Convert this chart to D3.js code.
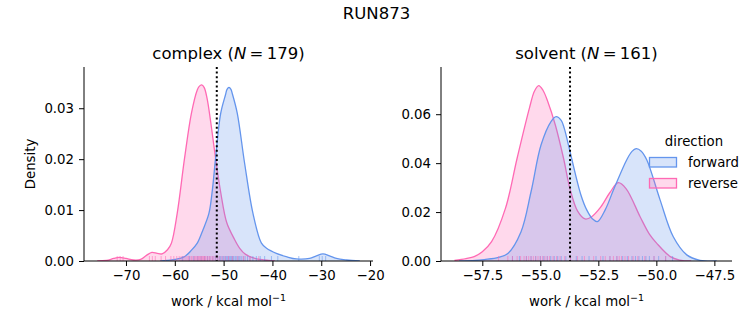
<!DOCTYPE html>
<html>
<head>
<meta charset="utf-8">
<script src="https://cdn.jsdelivr.net/npm/d3@7"></script>
<style>
  body { margin: 0; background: #fff; }
  svg { font-family: "DejaVu Sans", sans-serif; }
</style>
</head>
<body>
<svg id="chart" width="753" height="325"></svg>
<script>
// density curves: [work, density]
const complexReverse = [[-75.9,0],[-74,0.0001],[-72.5,0.0005],[-71.4,0.0007],[-70,0.0005],[-68.5,0.0002],[-67,0.0003],[-65.8,0.0011],[-64.7,0.0017],[-63.6,0.0015],[-62.6,0.0014],[-61.5,0.0022],[-60.7,0.0035],[-59.5,0.0094],[-58.0,0.0202],[-56.6,0.029],[-55.4,0.0336],[-55.0,0.0343],[-54.5,0.0346],[-54.0,0.0341],[-53.4,0.032],[-52.6,0.027],[-51.65,0.0202],[-50.6,0.0135],[-49.35,0.0075],[-47.9,0.0045],[-46.7,0.0025],[-45.5,0.0013],[-43.6,0.0005],[-41.6,0.0002],[-39.5,0]];
const complexForward = [[-63,0],[-61.6,0.0001],[-60,0.0003],[-58.1,0.0008],[-56.7,0.002],[-55.4,0.0035],[-54.2,0.0062],[-53.0,0.0094],[-52.3,0.014],[-51.65,0.0202],[-50.6,0.029],[-49.6,0.0327],[-49.3,0.0337],[-48.9,0.0341],[-48.5,0.0337],[-48.2,0.0328],[-47.2,0.029],[-45.7,0.0192],[-44.0,0.0094],[-42.25,0.0035],[-41.2,0.0025],[-39.2,0.0015],[-37,0.0008],[-35.1,0.0004],[-32.4,0.0005],[-31,0.001],[-29.65,0.0014],[-28.3,0.001],[-26.9,0.0005],[-24.8,0.0002],[-22.1,0]];
const solventReverse = [[-58.7,0.0002],[-58.2,0.001],[-57.85,0.0018],[-57.5,0.0038],[-57.1,0.0079],[-56.5,0.0216],[-56.0,0.042],[-55.47,0.0625],[-55.25,0.0695],[-55.07,0.0717],[-54.88,0.0697],[-54.68,0.0652],[-54.35,0.0555],[-54.0,0.042],[-53.72,0.0295],[-53.4,0.0205],[-53.07,0.0172],[-52.8,0.018],[-52.4,0.022],[-52.0,0.028],[-51.64,0.032],[-51.3,0.0295],[-50.7,0.0181],[-50.3,0.011],[-49.98,0.0072],[-49.4,0.0018],[-49.0,0.0004],[-48.5,0]];
const solventForward = [[-58.5,0],[-57.8,0.0002],[-57.41,0.0006],[-56.8,0.0015],[-56.4,0.0031],[-55.83,0.012],[-55.4,0.0283],[-54.97,0.0474],[-54.54,0.057],[-54.32,0.059],[-54.1,0.0575],[-53.97,0.0543],[-53.72,0.0447],[-53.25,0.027],[-53.0,0.0209],[-52.75,0.0172],[-52.54,0.0161],[-52.2,0.021],[-51.85,0.029],[-51.28,0.0413],[-51.05,0.0448],[-50.87,0.0459],[-50.65,0.0449],[-50.41,0.0413],[-49.84,0.025],[-49.27,0.0099],[-48.69,0.0025],[-48.12,0.0003],[-47.4,0]];

// individual work values (rug)
const complexReverseRug = [-71.8,-71.2,-70.6,-65.2,-64.6,-64.0,-62.8,-61.9,-60.8,-60.2,-59.6,-59.1,-58.7,-58.3,-57.9,-57.5,-57.2,-56.9,-56.6,-56.3,-56.0,-55.8,-55.5,-55.3,-55.1,-54.9,-54.7,-54.5,-54.3,-54.1,-53.9,-53.7,-53.4,-53.2,-52.9,-52.6,-52.3,-52.0,-51.6,-51.2,-50.8,-50.3,-49.7,-49.0,-48.2,-47.1,-45.9,-44.6,-42.8];
const complexForwardRug = [-58.4,-57.0,-56.1,-55.3,-54.6,-53.9,-53.3,-52.8,-52.2,-51.7,-51.3,-50.9,-50.6,-50.3,-50.0,-49.7,-49.5,-49.3,-49.1,-48.9,-48.7,-48.5,-48.3,-48.1,-47.9,-47.6,-47.3,-47.0,-46.7,-46.4,-46.0,-45.6,-45.1,-44.6,-44.0,-43.3,-42.5,-41.6,-40.2,-38.9,-34.6,-30.4,-29.8,-29.1];
const solventReverseRug = [-56.8,-56.4,-56.2,-56.0,-55.85,-55.7,-55.6,-55.5,-55.4,-55.3,-55.2,-55.1,-55.0,-54.9,-54.8,-54.7,-54.6,-54.45,-54.3,-54.15,-53.95,-53.7,-53.4,-53.1,-52.7,-52.4,-52.2,-52.0,-51.85,-51.7,-51.6,-51.5,-51.35,-51.2,-51.0,-50.8,-50.5,-50.1,-49.6];
const solventForwardRug = [-56.2,-55.9,-55.6,-55.4,-55.2,-55.0,-54.85,-54.7,-54.55,-54.4,-54.25,-54.1,-53.9,-53.7,-53.45,-53.2,-52.9,-52.6,-52.3,-52.0,-51.7,-51.45,-51.25,-51.05,-50.9,-50.75,-50.6,-50.45,-50.3,-50.1,-49.9,-49.6,-49.3];

const directions = ["forward", "reverse"];
const colors = { forward: "#6495ed", reverse: "#ff69b4" };

const complexTicksX = [-70, -60, -50, -40, -30, -20];
const complexTicksY = [0, 0.01, 0.02, 0.03];
const solventTicksX = [-57.5, -55, -52.5, -50, -47.5];
const solventTicksY = [0, 0.02, 0.04, 0.06];

const panels = [
  { name: "complex", n: 179, left: 84, right: 373, xlim: [-78.6, -19.4], ylim: [0, 0.0381],
    ticksX: complexTicksX, ticksY: complexTicksY, fmtX: d3.format(".0f"), vline: -51.4,
    curves: { forward: complexForward, reverse: complexReverse },
    rugs: { forward: complexForwardRug, reverse: complexReverseRug } },
  { name: "solvent", n: 161, left: 441, right: 732, xlim: [-59.28, -46.74], ylim: [0, 0.0793],
    ticksX: solventTicksX, ticksY: solventTicksY, fmtX: d3.format(".1f"), vline: -53.72,
    curves: { forward: solventForward, reverse: solventReverse },
    rugs: { forward: solventForwardRug, reverse: solventReverseRug } }
];

const yTop = 67, yBottom = 261;
const svg = d3.select("#chart");
const minus = s => s.replace("-", "\u2212");

svg.append("text")
  .attr("x", 376.5).attr("y", 19)
  .attr("text-anchor", "middle")
  .attr("font-size", 16.5)
  .text("RUN873");

panels.forEach((p, i) => {
  const x = d3.scaleLinear().domain(p.xlim).range([p.left, p.right]);
  const y = d3.scaleLinear().domain(p.ylim).range([yBottom, yTop]);
  const g = svg.append("g");

  // keep the smoothed curves from dipping under the baseline
  svg.append("clipPath").attr("id", "clip" + i)
    .append("rect").attr("x", p.left).attr("y", yTop - 5)
    .attr("width", p.right - p.left).attr("height", yBottom - yTop + 5);
  const curves = g.append("g").attr("clip-path", `url(#clip${i})`);

  const smooth = d3.curveCatmullRom.alpha(0.5);
  const area = d3.area().x(d => x(d[0])).y0(y(0)).y1(d => y(d[1])).curve(smooth);
  const line = d3.line().x(d => x(d[0])).y(d => y(d[1])).curve(smooth);

  // seaborn draws hue levels in reverse, so forward ends up on top
  ["reverse", "forward"].forEach(k => {
    curves.append("path").attr("d", area(p.curves[k]))
      .attr("fill", colors[k]).attr("fill-opacity", 0.25);
    curves.append("path").attr("d", line(p.curves[k]))
      .attr("fill", "none").attr("stroke", colors[k]).attr("stroke-width", 1.3);
  });

  ["forward", "reverse"].forEach(k => {
    g.append("g").selectAll("line")
      .data(p.rugs[k])
      .join("line")
        .attr("x1", d => x(d)).attr("x2", d => x(d))
        .attr("y1", yBottom).attr("y2", yBottom - 5)
        .attr("stroke", colors[k]).attr("stroke-opacity", 0.55).attr("stroke-width", 1);
  });

  g.append("line")
    .attr("x1", x(p.vline)).attr("x2", x(p.vline))
    .attr("y1", yTop).attr("y2", yBottom)
    .attr("stroke", "#000").attr("stroke-width", 2).attr("stroke-dasharray", "2,2.6");

  const xAxis = g.append("g").attr("transform", `translate(0,${yBottom})`)
    .call(d3.axisBottom(x).tickValues(p.ticksX).tickFormat(d => minus(p.fmtX(d))).tickSize(5).tickPadding(5));
  const yAxis = g.append("g").attr("transform", `translate(${p.left},0)`)
    .call(d3.axisLeft(y).tickValues(p.ticksY).tickFormat(d3.format(".2f")).tickSize(5).tickPadding(5));
  [xAxis, yAxis].forEach(a => {
    a.attr("font-family", "DejaVu Sans").attr("font-size", 13.3);
    a.selectAll("path, line").attr("stroke", "#000").attr("stroke-width", 1);
    a.selectAll("text").attr("fill", "#000");
  });
  // spines without the end caps d3 adds
  xAxis.select(".domain").attr("d", `M${p.left},0H${p.right}`);
  yAxis.select(".domain").attr("d", `M0,${yTop}V${yBottom}`);

  const cx = (p.left + p.right) / 2;
  const title = g.append("text").attr("x", cx).attr("y", 59)
    .attr("text-anchor", "middle").attr("font-size", 16.5);
  title.append("tspan").text(p.name + " (");
  title.append("tspan").attr("font-style", "italic").text("N");
  title.append("tspan").text("\u2009=\u2009" + p.n + ")");

  const xl = g.append("text").attr("x", cx).attr("y", 306)
    .attr("text-anchor", "middle").attr("font-size", 13.3);
  xl.append("tspan").text("work / kcal mol");
  xl.append("tspan").attr("dy", -5).attr("font-size", 9.5).text("\u22121");

  if (i === 0) {
    g.append("text")
      .attr("transform", `translate(35,${(yTop + yBottom) / 2}) rotate(-90)`)
      .attr("text-anchor", "middle").attr("font-size", 13.3)
      .text("Density");
  }
});

// legend
const legend = svg.append("g").attr("transform", "translate(649,0)");
legend.append("text").attr("x", 45).attr("y", 146).attr("text-anchor", "middle")
  .attr("font-size", 13.3).text("direction");
directions.forEach((k, i) => {
  const yy = 157.5 + i * 21;
  legend.append("rect").attr("x", 0.5).attr("y", yy).attr("width", 27).attr("height", 9.5)
    .attr("fill", colors[k]).attr("fill-opacity", 0.25)
    .attr("stroke", colors[k]).attr("stroke-width", 1.3);
  legend.append("text").attr("x", 39).attr("y", yy + 9).attr("font-size", 13.3).text(k);
});
</script>
</body>
</html>
